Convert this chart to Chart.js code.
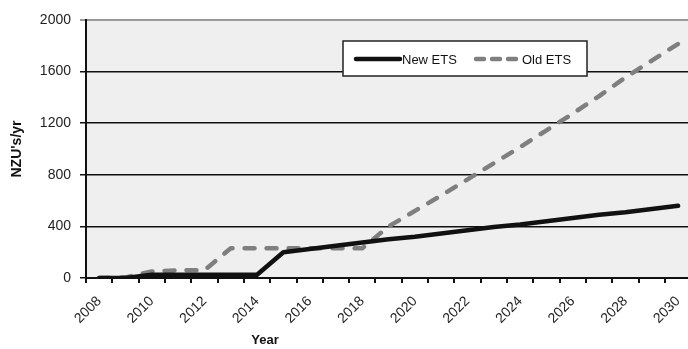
<!DOCTYPE html>
<html>
<head>
<meta charset="utf-8">
<script src="https://cdn.jsdelivr.net/npm/chart.js@4.4.0/dist/chart.umd.min.js"></script>
<style>
  html, body { margin: 0; padding: 0; background: #fff; overflow: hidden; }
  #wrap { width: 700px; height: 349px; }
</style>
</head>
<body>
<div id="wrap"><canvas id="myChart" width="700" height="349"></canvas></div>
<script>
const years = ['2008', '2009', '2010', '2011', '2012', '2013', '2014', '2015', '2016', '2017', '2018', '2019',
  '2020', '2021', '2022', '2023', '2024', '2025', '2026', '2027', '2028', '2029', '2030'];
const newEts = [0, 0, 25, 25, 25, 25, 25, 200, 225, 250, 275, 300,
  320, 345, 370, 395, 415, 440, 465, 490, 510, 535, 560];
const oldEts = [0, 5, 50, 60, 60, 230, 230, 230, 230, 230, 230, 400,
  520, 640, 765, 890, 1015, 1145, 1275, 1410, 1555, 1685, 1815];
const yTicks = [0, 400, 800, 1200, 1600, 2000];

const FONT = 'Liberation Sans, Arial, sans-serif';

// grey plot background
const plotBg = {
  id: 'plotBg',
  beforeDraw(chart) {
    const { ctx, chartArea: a } = chart;
    ctx.save();
    ctx.fillStyle = '#efefef';
    ctx.fillRect(a.left, a.top, a.right - a.left, a.bottom - a.top);
    ctx.restore();
  }
};

// boxed legend inside the plot + "Year" caption
const boxLegend = {
  id: 'boxLegend',
  afterDraw(chart) {
    const ctx = chart.ctx;
    ctx.save();
    ctx.fillStyle = '#fff';
    ctx.strokeStyle = '#222';
    ctx.lineWidth = 1.5;
    ctx.fillRect(343, 41, 244, 35);
    ctx.strokeRect(343, 41, 244, 35);

    const items = [{ x: 356, tx: 402 }, { x: 476, tx: 522 }];
    chart.data.datasets.forEach((ds, i) => {
      const it = items[i];
      ctx.beginPath();
      ctx.strokeStyle = ds.borderColor;
      ctx.lineWidth = ds.borderWidth;
      ctx.lineCap = 'round';
      ctx.setLineDash(i === 1 ? [8, 8] : []);
      ctx.moveTo(it.x, 59);
      ctx.lineTo(it.x + 44, 59);
      ctx.stroke();
      ctx.setLineDash([]);
      ctx.fillStyle = '#111';
      ctx.font = '13px ' + FONT;
      ctx.textBaseline = 'middle';
      ctx.textAlign = 'left';
      ctx.fillText(ds.label, it.tx, 60);
    });

    ctx.fillStyle = '#111';
    ctx.font = 'bold 13px ' + FONT;
    ctx.textAlign = 'center';
    ctx.textBaseline = 'middle';
    ctx.fillText('Year', 265, 340);
    ctx.restore();
  }
};

const ctx = document.getElementById('myChart').getContext('2d');
new Chart(ctx, {
  type: 'line',
  data: {
    labels: years,
    datasets: [
      {
        label: 'New ETS',
        data: newEts,
        borderColor: '#111111',
        borderWidth: 4.5,
        pointRadius: 0,
        tension: 0,
        borderCapStyle: 'round',
        borderJoinStyle: 'round',
      },
      {
        label: 'Old ETS',
        data: oldEts,
        borderColor: '#7f7f7f',
        borderWidth: 4.5,
        borderDash: [10, 12],
        pointRadius: 0,
        tension: 0,
        borderCapStyle: 'round',
        borderJoinStyle: 'round',
      },
    ],
  },
  options: {
    responsive: false,
    animation: false,
    layout: { padding: { top: 20, right: 2, left: 0, bottom: 0 } },
    plugins: {
      legend: { display: false },
      title: { display: false },
      tooltip: { enabled: false },
    },
    scales: {
      x: {
        type: 'category',
        offset: true,
        afterFit(scale) { scale.height = 71; },
        grid: {
          offset: true,
          drawOnChartArea: false,
          drawTicks: true,
          tickLength: 5,
          color: '#111',
          lineWidth: 2,
        },
        border: { display: true, color: '#111', width: 2 },
        ticks: {
          autoSkip: false,
          minRotation: 45,
          maxRotation: 45,
          padding: 10,
          color: '#222',
          font: { family: FONT, size: 14 },
          callback(value, index) {
            return index % 2 === 0 ? this.getLabelForValue(value) : '';
          },
        },
      },
      y: {
        min: 0,
        max: 2000,
        afterFit(scale) { scale.width = 86; },
        afterBuildTicks(scale) { scale.ticks = yTicks.map(v => ({ value: v })); },
        grid: {
          color: c => (c.tick && c.tick.value === 2000 ? '#9a9a9a' : '#111'),
          lineWidth: c => (c.tick && c.tick.value === 2000 ? 2 : 1.5),
          tickLength: 6,
          drawTicks: true,
        },
        border: { display: true, color: '#111', width: 2 },
        ticks: {
          padding: 9,
          color: '#222',
          font: { family: FONT, size: 14 },
          callback: v => String(v),
        },
        title: {
          display: true,
          text: "NZU's/yr",
          color: '#111',
          font: { family: FONT, size: 14, weight: 'bold' },
          padding: { top: 9, bottom: 0 },
        },
      },
    },
  },
  plugins: [plotBg, boxLegend],
});
</script>
</body>
</html>
